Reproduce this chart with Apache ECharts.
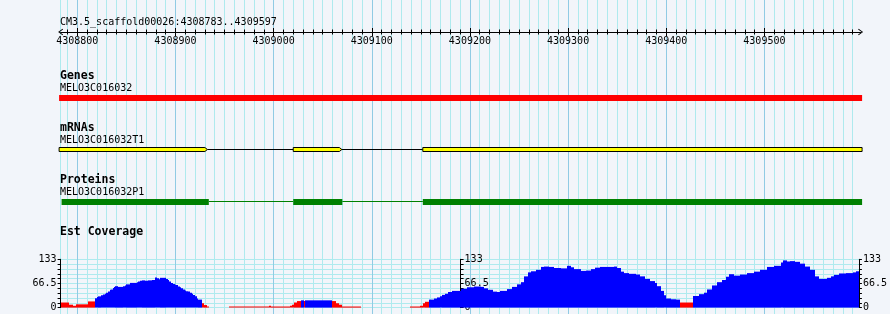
<!DOCTYPE html>
<html><head><meta charset="utf-8">
<script src="https://cdn.jsdelivr.net/npm/echarts@6/dist/echarts.min.js"></script>
<style>html,body{margin:0;padding:0;background:#f2f5fa}#c{width:890px;height:314px}</style>
</head><body><div id="c"></div><script>
// ---------------- data ----------------
const viewStart = 4308783;
const viewEnd = 4309598;
const titleText = 'CM3.5_scaffold00026:4308783..4309597';
const rulerLabels = [4308800, 4308900, 4309000, 4309100, 4309200, 4309300, 4309400, 4309500];

const geneName = 'MELO3C016032';
const geneStart = 4308700;
const geneEnd = 4309700;

const mrnaName = 'MELO3C016032T1';
const mrnaExonStarts = [4308700, 4309020, 4309152];
const mrnaExonEnds = [4308930, 4309067, 4309700];

const proteinName = 'MELO3C016032P1';
const cdsStarts = [4308784, 4309020, 4309152];
const cdsEnds = [4308934, 4309070, 4309700];

const covStarts = [4308783,4308792,4308796,4308799,4308811,4308818,4308820,4308821,4308824,4308826,4308828,4308829,4308831,4308833,4308834,4308836,4308838,4308839,4308842,4308847,4308849,4308850,4308854,4308861,4308862,4308864,4308866,4308869,4308872,4308876,4308879,4308881,4308883,4308884,4308891,4308893,4308894,4308896,4308898,4308900,4308901,4308903,4308905,4308906,4308908,4308910,4308911,4308913,4308915,4308917,4308918,4308920,4308922,4308923,4308927,4308929,4308932,4308934,4308955,4308996,4308998,4309017,4309019,4309021,4309024,4309028,4309031,4309033,4309060,4309064,4309067,4309070,4309090,4309140,4309150,4309153,4309155,4309159,4309164,4309167,4309170,4309172,4309175,4309178,4309183,4309192,4309198,4309205,4309212,4309215,4309219,4309224,4309229,4309232,4309239,4309244,4309249,4309253,4309256,4309260,4309263,4309268,4309273,4309277,4309282,4309287,4309294,4309300,4309304,4309307,4309314,4309319,4309324,4309329,4309334,4309348,4309351,4309355,4309358,4309363,4309370,4309375,4309380,4309385,4309390,4309392,4309396,4309399,4309401,4309406,4309411,4309415,4309429,4309435,4309440,4309443,4309448,4309453,4309458,4309462,4309465,4309470,4309477,4309484,4309491,4309497,4309504,4309511,4309518,4309521,4309525,4309528,4309533,4309538,4309543,4309548,4309553,4309557,4309565,4309570,4309573,4309578,4309585,4309592,4309595];
const covValues = [14,8,5,9,17,26,29,31,34,36,38,41,44,49,50,54,57,59,57,59,61,64,68,70,72,74,75,74,75,76,83,81,78,82,79,76,72,68,65,63,62,58,56,53,50,47,45,44,41,38,35,31,25,22,12,7,3,0,3,5,3,5,8,14,18,20,18,20,18,12,8,3,0,3,5,12,16,22,25,28,31,35,38,43,46,52,56,58,57,53,49,44,43,46,51,57,64,70,86,97,100,104,112,113,112,109,108,115,111,106,101,102,106,110,112,113,109,99,95,93,91,86,79,73,68,59,46,34,25,23,22,14,32,37,41,50,61,70,76,85,92,88,91,95,99,104,112,115,124,130,127,128,126,121,113,104,86,79,82,86,90,94,95,97,100];
const covMax = 133;
const covLabels = [0, 66.5, 133];
const covThreshold = 19;

// ---------------- layout / style ----------------
const L = 60.6, W = 800;
const MONO = '"DejaVu Sans Mono", monospace';
const minorGrid = '#aeeaee', majorGrid = '#90cbe4';

const minorTicks = [];
for (let v = Math.ceil(viewStart / 10) * 10; v <= viewEnd; v += 10) minorTicks.push(v);
const gridLineVals = [viewStart].concat(minorTicks.filter(v => v % 100 !== 0));
const majorVals = minorTicks.filter(v => v % 100 === 0);
const covTicks = [];
for (let i = 0; i <= 10; i++) covTicks.push(+(covMax * i / 10).toFixed(2));

function xa(grid, extra) {
  return Object.assign({type: 'value', gridIndex: grid, min: viewStart, max: viewEnd,
    axisLine: {show: false}, axisTick: {show: false}, axisLabel: {show: false}, splitLine: {show: false}}, extra || {});
}
function ya(grid, extra) {
  return Object.assign({type: 'value', gridIndex: grid, min: 0, max: 1, show: false}, extra || {});
}
const arrowPath = 'path://M5,0 L10,7 L8.8,7.9 L5,2.3 L1.2,7.9 L0,7 Z';

const grids = [
  {left: L, width: W, top: 0, height: 314},      // 0 background grid lines
  {left: L, width: W, top: 0, height: 32},       // 1 ruler minor
  {left: L, width: W, top: 0, height: 32},       // 2 ruler major
  {left: L, width: W, top: 95, height: 6},       // 3 genes
  {left: L, width: W, top: 147.5, height: 4},    // 4 mRNAs
  {left: L, width: W, top: 199, height: 6},      // 5 proteins
  {left: L, width: W, top: 259.3, height: 48.3}  // 6 coverage
];

const xAxes = [
  xa(0, {splitLine: {show: true, lineStyle: {color: minorGrid, width: 1}}, axisTick: {show: false, customValues: gridLineVals}}),
  xa(0, {position: 'top', splitLine: {show: true, lineStyle: {color: majorGrid, width: 1}}, axisTick: {show: false, customValues: majorVals}}),
  xa(1, {position: 'bottom', axisLine: {show: true, lineStyle: {color: '#000', width: 1}, symbol: [arrowPath, arrowPath], symbolSize: [8, 5]},
         axisTick: {show: true, customValues: minorTicks, length: 2.5, lineStyle: {color: '#000'}}}),
  xa(1, {position: 'top', offset: -32, axisTick: {show: true, customValues: minorTicks, length: 2.5, lineStyle: {color: '#000'}}}),
  xa(2, {position: 'bottom', axisTick: {show: true, customValues: majorVals, length: 4, lineStyle: {color: '#000'}},
         axisLabel: {show: true, customValues: rulerLabels, fontFamily: MONO, fontSize: 10, color: '#000', margin: 4, formatter: v => String(v)}}),
  xa(2, {position: 'top', offset: -32, axisTick: {show: true, customValues: majorVals, length: 4, lineStyle: {color: '#000'}}}),
  xa(3), xa(4), xa(5), xa(6)
];

const covAxisCommon = {type: 'value', gridIndex: 6, min: 0, max: covMax,
  axisLine: {show: true, lineStyle: {color: '#000', width: 1}},
  axisTick: {show: true, customValues: covTicks, length: 3, lineStyle: {color: '#000'}},
  axisLabel: {show: true, customValues: covLabels, fontFamily: MONO, fontSize: 10, color: '#000', margin: 4,
              formatter: v => String(v)},
  splitLine: {show: false}};

const yAxes = [
  ya(0), ya(1), ya(2), ya(3), ya(4), ya(5),
  Object.assign({}, covAxisCommon, {position: 'left', splitLine: {show: true, lineStyle: {color: minorGrid, width: 1}}}),
  Object.assign({}, covAxisCommon, {position: 'left', offset: -400,
    axisTick: Object.assign({}, covAxisCommon.axisTick, {inside: true}),
    axisLabel: Object.assign({}, covAxisCommon.axisLabel, {inside: true, margin: 4})}),
  Object.assign({}, covAxisCommon, {position: 'right'})
];

function clipX(x, cs) { return Math.max(cs.x - 1.5, Math.min(cs.x + cs.width + 1.5, x)); }

// gene
const geneSeries = {
  type: 'custom', xAxisIndex: 6, yAxisIndex: 3, data: [[geneStart, geneEnd]], clip: false,
  renderItem(params, api) {
    const cs = params.coordSys;
    const p0 = api.coord([api.value(0), 0]), p1 = api.coord([api.value(1), 1]);
    const x0 = clipX(p0[0], cs), x1 = clipX(p1[0], cs);
    return {type: 'rect', shape: {x: x0, y: p1[1], width: x1 - x0, height: p0[1] - p1[1]}, style: {fill: '#ff0000'}};
  }
};

// mRNA introns and exons
const mrnaIntrons = [];
for (let i = 0; i < mrnaExonStarts.length - 1; i++) mrnaIntrons.push([mrnaExonEnds[i], mrnaExonStarts[i + 1]]);
const mrnaIntronSeries = {
  type: 'custom', xAxisIndex: 7, yAxisIndex: 4, data: mrnaIntrons, clip: false, z: 2,
  renderItem(params, api) {
    const p0 = api.coord([api.value(0), 0.5]), p1 = api.coord([api.value(1), 0.5]);
    const y = Math.floor(p0[1]) + 0.5;
    return {type: 'line', shape: {x1: p0[0] + 2.5, y1: y, x2: p1[0], y2: y}, style: {stroke: '#000', lineWidth: 1}};
  }
};
const mrnaExonSeries = {
  type: 'custom', xAxisIndex: 7, yAxisIndex: 4, clip: false, z: 3,
  data: mrnaExonStarts.map((s, i) => [s, mrnaExonEnds[i]]),
  renderItem(params, api) {
    const cs = params.coordSys;
    const p0 = api.coord([api.value(0), 0]), p1 = api.coord([api.value(1), 1]);
    const x0 = clipX(p0[0], cs), x1 = clipX(p1[0], cs);
    const yT = p1[1], yB = p0[1], yM = (yT + yB) / 2;
    const tip = (p1[0] < cs.x + cs.width) ? 2.5 : 0;
    return {type: 'polygon', shape: {points: [[x0, yT], [x1, yT], [x1 + tip, yM], [x1, yB], [x0, yB]]},
            style: {fill: '#ffff00', stroke: '#000', lineWidth: 1}};
  }
};

// protein
const cdsGaps = [];
for (let i = 0; i < cdsStarts.length - 1; i++) cdsGaps.push([cdsEnds[i], cdsStarts[i + 1]]);
const cdsLineSeries = {
  type: 'custom', xAxisIndex: 8, yAxisIndex: 5, data: cdsGaps, clip: false, z: 2,
  renderItem(params, api) {
    const p0 = api.coord([api.value(0), 0.6]), p1 = api.coord([api.value(1), 0.6]);
    const y = Math.floor(p0[1]) + 0.5;
    return {type: 'line', shape: {x1: p0[0], y1: y, x2: p1[0], y2: y}, style: {stroke: '#008000', lineWidth: 1}};
  }
};
const cdsBlockSeries = {
  type: 'custom', xAxisIndex: 8, yAxisIndex: 5, clip: false, z: 3,
  data: cdsStarts.map((s, i) => [s, cdsEnds[i]]),
  renderItem(params, api) {
    const cs = params.coordSys;
    const p0 = api.coord([api.value(0), 0]), p1 = api.coord([api.value(1), 1]);
    const x0 = clipX(p0[0], cs), x1 = clipX(p1[0], cs);
    return {type: 'rect', shape: {x: x0, y: p1[1], width: x1 - x0, height: p0[1] - p1[1]}, style: {fill: '#008000'}};
  }
};

// coverage
const covData = covStarts.map((s, i) => [s, i + 1 < covStarts.length ? covStarts[i + 1] : viewEnd, covValues[i]]);
const covSeries = {
  type: 'custom', xAxisIndex: 9, yAxisIndex: 6, data: covData, z: 3,
  renderItem(params, api) {
    const v = api.value(2);
    if (v <= 0) return null;
    const p0 = api.coord([api.value(0), 0]), p1 = api.coord([api.value(1), v]);
    const x0 = Math.round(p0[0]), x1 = Math.round(p1[0]);
    return {type: 'rect', shape: {x: x0, y: p1[1], width: x1 - x0, height: p0[1] - p1[1]},
            style: {fill: v >= covThreshold ? '#0000ff' : '#ff0000'}};
  }
};

function txt(text, x, y, bold) {
  return {type: 'text', x: x, y: y, z: 100, silent: true,
    style: {text: text, fill: '#000', font: (bold ? 'bold 11.5px ' : '10px ') + MONO, verticalAlign: 'middle', align: 'left'}};
}

const chart = echarts.init(document.getElementById('c'), null, {renderer: 'canvas'});
chart.setOption({
  backgroundColor: '#f2f5fa',
  animation: false,
  grid: grids,
  xAxis: xAxes,
  yAxis: yAxes,
  series: [geneSeries, mrnaIntronSeries, mrnaExonSeries, cdsLineSeries, cdsBlockSeries, covSeries],
  graphic: [
    txt(titleText, 60, 22.4, false),
    txt('Genes', 60, 76.4, true),
    txt(geneName, 60, 88.7, false),
    txt('mRNAs', 60, 128.1, true),
    txt(mrnaName, 60, 140.7, false),
    txt('Proteins', 60, 179.7, true),
    txt(proteinName, 60, 192.7, false),
    txt('Est Coverage', 60, 232.1, true)
  ]
});
</script></body></html>
